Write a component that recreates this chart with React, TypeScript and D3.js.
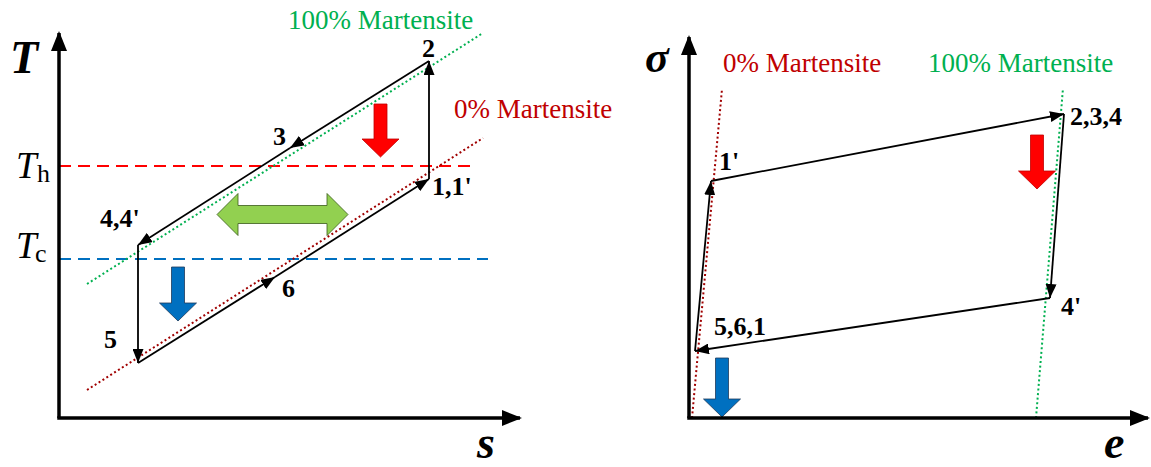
import React, { useEffect } from "react";
import * as d3 from "d3";

// ---- T-s diagram (units, origin at the axes' corner) ----
const tsCycle = [
  { id: "1", s: 370, T: 239 },
  { id: "2", s: 370, T: 357 },
  { id: "3", s: 231, T: 270 },
  { id: "4", s: 79, T: 173 },
  { id: "5", s: 79, T: 55 },
  { id: "6", s: 216, T: 141 },
];
const tsLegs = [["1", "2"], ["2", "3"], ["3", "4"], ["4", "5"], ["5", "6"], ["6", "1"]];
const tsMart100 = [{ s: 28, T: 134 }, { s: 424, T: 385 }];
const tsMart0 = [{ s: 28, T: 28 }, { s: 424, T: 280 }];
const tsTh = 252;
const tsTc = 159;
const tsThEnd = 418;
const tsTcEnd = 429;
const tsLabels = [
  { text: "2", s: 363, T: 361 },
  { text: "3", s: 214, T: 273 },
  { text: "4,4'", s: 41, T: 191 },
  { text: "5", s: 45, T: 70 },
  { text: "6", s: 223, T: 121 },
  { text: "1,1'", s: 373, T: 223 },
];

// ---- sigma-e diagram ----
const seCycle = [
  { id: "561", e: 6, sig: 67 },
  { id: "1p", e: 22, sig: 237 },
  { id: "234", e: 375, sig: 304 },
  { id: "4p", e: 361, sig: 120 },
];
const seLegs = [["561", "1p"], ["1p", "234"], ["234", "4p"], ["4p", "561"]];
const seMart0 = [{ e: 3, sig: 0 }, { e: 33, sig: 329 }];
const seMart100 = [{ e: 347, sig: 0 }, { e: 374, sig: 330 }];
const seLabels = [
  { text: "1'", e: 30, sig: 248 },
  { text: "2,3,4", e: 381, sig: 293 },
  { text: "4'", e: 372, sig: 103 },
  { text: "5,6,1", e: 25, sig: 83 },
];

// heat flow block arrows (x centre, top, bottom in data units)
const tsHeatArrows = [
  { x: 321.5, top: 314, bottom: 261, fill: "#FF0000", stroke: "#C00000" },
  { x: 119, top: 151, bottom: 97, fill: "#0070C0", stroke: "#1F3B5A" },
];
const tsWorkArrow = { x0: 158, x1: 289, T: 203.5 };
const seHeatArrows = [
  { x: 348, top: 283, bottom: 229, fill: "#FF0000", stroke: "#C00000" },
  { x: 33, top: 60, bottom: 1, fill: "#0070C0", stroke: "#1F3B5A" },
];

const W = 1151;
const H = 467;
const serif = "Liberation Serif, Times New Roman, DejaVu Serif, serif";

function downArrow(cx: number, top: number, bottom: number) {
  const sw = 6.5, hw = 18.5, hl = 18;
  const hb = bottom - hl;
  return `M${cx - sw},${top}L${cx + sw},${top}L${cx + sw},${hb}L${cx + hw},${hb}L${cx},${bottom}L${cx - hw},${hb}L${cx - sw},${hb}Z`;
}

function doubleArrow(x0: number, x1: number, cy: number) {
  const sh = 9, hh = 21, hl = 21;
  return `M${x0},${cy}L${x0 + hl},${cy - hh}L${x0 + hl},${cy - sh}L${x1 - hl},${cy - sh}L${x1 - hl},${cy - hh}L${x1},${cy}L${x1 - hl},${cy + hh}L${x1 - hl},${cy + sh}L${x0 + hl},${cy + sh}L${x0 + hl},${cy + hh}Z`;
}

export default function App() {
  useEffect(() => {
    document.body.style.margin = "0";
  }, []);

  const sx = d3.scaleLinear().domain([0, 461]).range([59, 520]);
  const sT = d3.scaleLinear().domain([0, 385]).range([418, 33]);
  const se = d3.scaleLinear().domain([0, 459]).range([689, 1148]);
  const sSig = d3.scaleLinear().domain([0, 381]).range([418, 37]);

  const lineTs = d3.line<{ s: number; T: number }>().x((d) => sx(d.s)).y((d) => sT(d.T));
  const lineSe = d3.line<{ e: number; sig: number }>().x((d) => se(d.e)).y((d) => sSig(d.sig));

  const tsById = new Map(tsCycle.map((d) => [d.id, d]));
  const seById = new Map(seCycle.map((d) => [d.id, d]));

  const axisW = 3.5;
  const txt = { fontFamily: serif };

  return (
    <svg width={W} height={H} style={{ display: "block", background: "#fff" }}>
      <defs>
        <marker id="tip" viewBox="0 0 14 11" refX="14" refY="5.5" markerWidth="14" markerHeight="11" markerUnits="userSpaceOnUse" orient="auto">
          <path d="M0,0L14,5.5L0,11Z" fill="#000" />
        </marker>
        <marker id="axtip" viewBox="0 0 20 16" refX="18" refY="8" markerWidth="20" markerHeight="16" markerUnits="userSpaceOnUse" orient="auto">
          <path d="M0,0L20,8L0,16Z" fill="#000" />
        </marker>
      </defs>

      {/* ---------- left: T-s ---------- */}
      <g>
        <line x1={sx(0)} y1={sT(tsTh)} x2={sx(tsThEnd)} y2={sT(tsTh)} stroke="#FF0000" strokeWidth={2} strokeDasharray="12,7" />
        <line x1={sx(0)} y1={sT(tsTc)} x2={sx(tsTcEnd)} y2={sT(tsTc)} stroke="#0070C0" strokeWidth={2} strokeDasharray="12,7" />
        <path d={lineTs(tsMart100) || ""} stroke="#00B050" strokeWidth={2} strokeDasharray="2,2.6" fill="none" />
        <path d={lineTs(tsMart0) || ""} stroke="#A00000" strokeWidth={2} strokeDasharray="2,2.6" fill="none" />

        {tsLegs.map(([a, b]) => (
          <path key={a + b} d={lineTs([tsById.get(a)!, tsById.get(b)!]) || ""} stroke="#000" strokeWidth={1.8} fill="none" markerEnd="url(#tip)" />
        ))}

        {tsHeatArrows.map((d, i) => (
          <path key={i} d={downArrow(sx(d.x), sT(d.top), sT(d.bottom))} fill={d.fill} stroke={d.stroke} strokeWidth={0.8} />
        ))}
        <path d={doubleArrow(sx(tsWorkArrow.x0), sx(tsWorkArrow.x1), sT(tsWorkArrow.T))} fill="#92D050" stroke="#3A5A1A" strokeWidth={0.8} />

        <line x1={sx(0)} y1={sT(0)} x2={sx(0)} y2={sT(385)} stroke="#000" strokeWidth={axisW} markerEnd="url(#axtip)" />
        <line x1={sx(0) - axisW / 2} y1={sT(0)} x2={sx(461)} y2={sT(0)} stroke="#000" strokeWidth={axisW} markerEnd="url(#axtip)" />

        {tsLabels.map((d) => (
          <text key={d.text} x={sx(d.s)} y={sT(d.T)} style={txt} fontWeight="bold" fontSize={26}>{d.text}</text>
        ))}

        <text x={288} y={29} style={txt} fontSize={27} fill="#00B050">100% Martensite</text>
        <text x={454} y={118} style={txt} fontSize={27} fill="#C00000">0% Martensite</text>

        <text x={10} y={73} style={txt} fontWeight="bold" fontStyle="italic" fontSize={46}>T</text>
        <text x={477} y={458} style={txt} fontWeight="bold" fontStyle="italic" fontSize={46}>s</text>
        <text x={16} y={178} style={txt} fontStyle="italic" fontSize={37}>T</text>
        <text x={37} y={182} style={txt} fontSize={26}>h</text>
        <text x={16} y={258} style={txt} fontStyle="italic" fontSize={37}>T</text>
        <text x={35} y={262} style={txt} fontSize={26}>c</text>
      </g>

      {/* ---------- right: sigma-e ---------- */}
      <g>
        <path d={lineSe(seMart0) || ""} stroke="#A00000" strokeWidth={2} strokeDasharray="2,2.6" fill="none" />
        <path d={lineSe(seMart100) || ""} stroke="#00B050" strokeWidth={2} strokeDasharray="2,2.6" fill="none" />

        {seLegs.map(([a, b]) => (
          <path key={a + b} d={lineSe([seById.get(a)!, seById.get(b)!]) || ""} stroke="#000" strokeWidth={1.8} fill="none" markerEnd="url(#tip)" />
        ))}

        {seHeatArrows.map((d, i) => (
          <path key={i} d={downArrow(se(d.x), sSig(d.top), sSig(d.bottom))} fill={d.fill} stroke={d.stroke} strokeWidth={0.8} />
        ))}

        <line x1={se(0)} y1={sSig(0)} x2={se(0)} y2={sSig(381)} stroke="#000" strokeWidth={axisW} markerEnd="url(#axtip)" />
        <line x1={se(0) - axisW / 2} y1={sSig(0)} x2={se(459)} y2={sSig(0)} stroke="#000" strokeWidth={axisW} markerEnd="url(#axtip)" />

        {seLabels.map((d) => (
          <text key={d.text} x={se(d.e)} y={sSig(d.sig)} style={txt} fontWeight="bold" fontSize={26}>{d.text}</text>
        ))}

        <text x={723} y={72} style={txt} fontSize={27} fill="#C00000">0% Martensite</text>
        <text x={928} y={72} style={txt} fontSize={27} fill="#00B050">100% Martensite</text>

        <text x={645} y={72} style={txt} fontWeight="bold" fontStyle="italic" fontSize={44}>σ</text>
        <text x={1104} y={458} style={txt} fontWeight="bold" fontStyle="italic" fontSize={46}>e</text>
      </g>
    </svg>
  );
}
